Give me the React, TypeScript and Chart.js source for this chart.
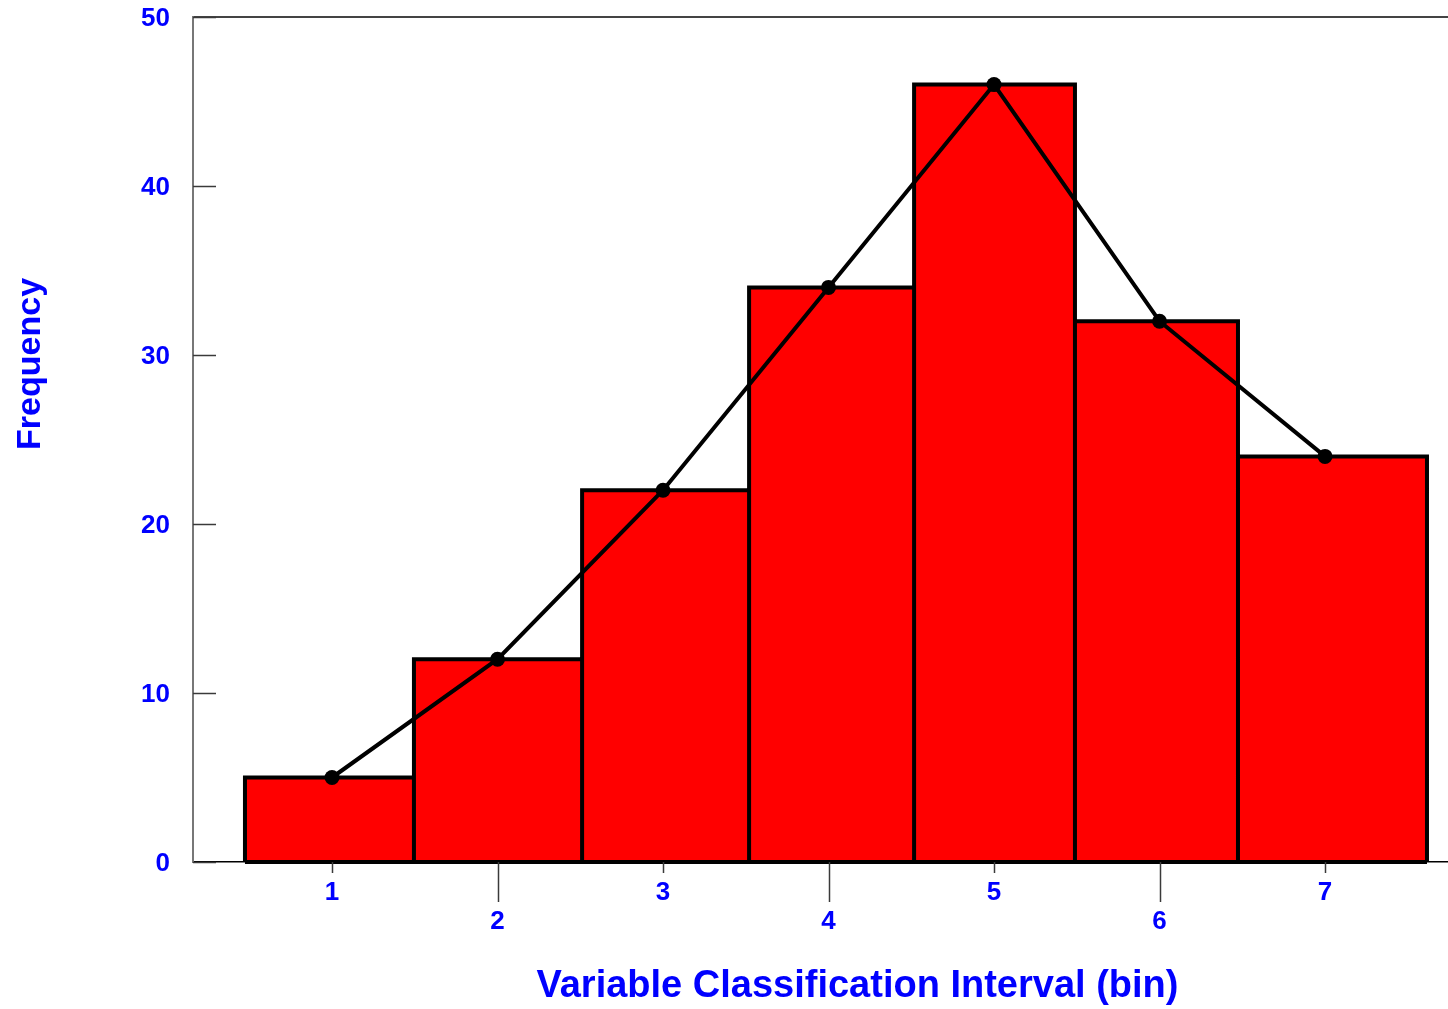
import React, { useEffect, useRef } from 'react';
import { Chart, registerables } from 'chart.js';

Chart.register(...registerables);

// ---- data ----
const binCenters = [1, 2, 3, 4, 5, 6, 7];
const frequencies = [5, 12, 22, 34, 46, 32, 24];
const binEdges = [0.474, 1.495, 2.511, 3.52, 4.517, 5.489, 6.474, 7.616];
const yTickValues = [0, 10, 20, 30, 40, 50];
const xTitle = 'Variable Classification Interval (bin)';
const yTitle = 'Frequency';

const FONT = '"Liberation Sans", Arial, Helvetica, sans-serif';
const BLUE = '#0000ff';

const tickMarks = {
  id: 'tickMarks',
  afterDraw(chart: any) {
    const { ctx, chartArea, scales } = chart;
    const x = scales.x;
    const y = scales.y;
    ctx.save();
    ctx.strokeStyle = '#3a3a3a';
    ctx.lineWidth = 1.5;
    y.ticks.forEach((t: any) => {
      const py = Math.round(y.getPixelForValue(t.value)) + 0.5;
      ctx.beginPath();
      ctx.moveTo(chartArea.left, py);
      ctx.lineTo(chartArea.left + 23, py);
      ctx.stroke();
    });
    x.ticks.forEach((t: any) => {
      const px = Math.round(x.getPixelForValue(t.value)) + 0.5;
      const len = t.value % 2 === 0 ? 40 : 11;
      ctx.beginPath();
      ctx.moveTo(px, chartArea.bottom);
      ctx.lineTo(px, chartArea.bottom + len);
      ctx.stroke();
    });
    ctx.restore();
  },
};

const zeroPadding = (scale: any) => {
  scale.paddingTop = 0;
  scale.paddingBottom = 0;
  scale.paddingLeft = 0;
  scale.paddingRight = 0;
};

export default function App() {
  const ref = useRef<HTMLCanvasElement | null>(null);

  useEffect(() => {
    if (!ref.current) return;

    const histPoints: { x: number; y: number }[] = [];
    frequencies.forEach((f, i) => {
      if (i === 0) histPoints.push({ x: binEdges[i], y: 0 });
      histPoints.push(
        { x: binEdges[i], y: f },
        { x: binEdges[i + 1], y: f },
        { x: binEdges[i + 1], y: 0 }
      );
    });

    const baseline = [
      { x: binEdges[0], y: 0 },
      { x: binEdges[binEdges.length - 1], y: 0 },
    ];

    const polyPoints = binCenters.map((c, i) => ({ x: c, y: frequencies[i] }));

    const chart = new Chart(ref.current, {
      type: 'line',
      data: {
        datasets: [
          {
            label: 'polygon',
            data: polyPoints,
            borderColor: '#000',
            borderWidth: 4,
            pointRadius: 7.5,
            pointBackgroundColor: '#000',
            pointBorderColor: '#000',
            pointBorderWidth: 0,
            tension: 0,
            fill: false,
            clip: false,
          } as any,
          {
            label: 'base',
            data: baseline,
            borderColor: '#000',
            borderWidth: 4,
            pointRadius: 0,
            fill: false,
            clip: false,
          } as any,
          {
            label: 'histogram',
            data: histPoints,
            borderColor: '#000',
            borderWidth: 4,
            backgroundColor: '#ff0000',
            borderJoinStyle: 'miter',
            pointRadius: 0,
            tension: 0,
            fill: 'origin',
            clip: false,
          } as any,
        ],
      },
      options: {
        animation: false,
        responsive: false,
        events: [],
        layout: { autoPadding: false, padding: { top: 17, left: 0, right: 0, bottom: 0 } },
        plugins: {
          legend: { display: false },
          tooltip: { enabled: false },
        },
        scales: {
          x: {
            type: 'linear',
            min: 0.16,
            max: 7.743,
            afterBuildTicks: (scale: any) => {
              scale.ticks = binCenters.map((v) => ({ value: v }));
            },
            afterFit: (scale: any) => {
              scale.height = 147;
              zeroPadding(scale);
            },
            grid: { display: false, drawTicks: false },
            border: { display: true, color: '#000', width: 1.5 },
            ticks: {
              color: BLUE,
              padding: 16,
              maxRotation: 0,
              autoSkip: false,
              font: { family: FONT, size: 26, weight: 'bold', lineHeight: 1.12 },
              callback: (v: any) => (Number(v) % 2 === 0 ? ['', String(v)] : String(v)),
            },
            title: {
              display: true,
              text: '\u00a0'.repeat(7) + xTitle,
              color: BLUE,
              font: { family: FONT, size: 38, weight: 'bold', lineHeight: 1 },
              padding: { top: 0, bottom: 3 },
            },
          },
          y: {
            type: 'linear',
            min: 0,
            max: 50,
            afterBuildTicks: (scale: any) => {
              scale.ticks = yTickValues.map((v) => ({ value: v }));
            },
            afterFit: (scale: any) => {
              scale.width = 193;
              zeroPadding(scale);
            },
            grid: {
              display: true,
              drawOnChartArea: true,
              drawTicks: false,
              lineWidth: 2,
              color: (c: any) => (c.tick && c.tick.value === 50 ? '#444' : 'rgba(0,0,0,0)'),
            },
            border: { display: true, color: '#777', width: 2 },
            ticks: {
              color: BLUE,
              padding: 23,
              labelOffset: 2,
              font: { family: FONT, size: 26, weight: 'bold' },
            },
            title: {
              display: true,
              text: '\u00a0'.repeat(16) + yTitle,
              color: BLUE,
              font: { family: FONT, size: 34, weight: 'bold', lineHeight: 1.2 },
              padding: { top: 10, bottom: 0 },
            },
          },
        },
      } as any,
      plugins: [tickMarks],
    });

    return () => chart.destroy();
  }, []);

  return (
    <canvas
      ref={ref}
      width={1448}
      height={1009}
      style={{ position: 'absolute', left: 0, top: 0, display: 'block' }}
    />
  );
}
